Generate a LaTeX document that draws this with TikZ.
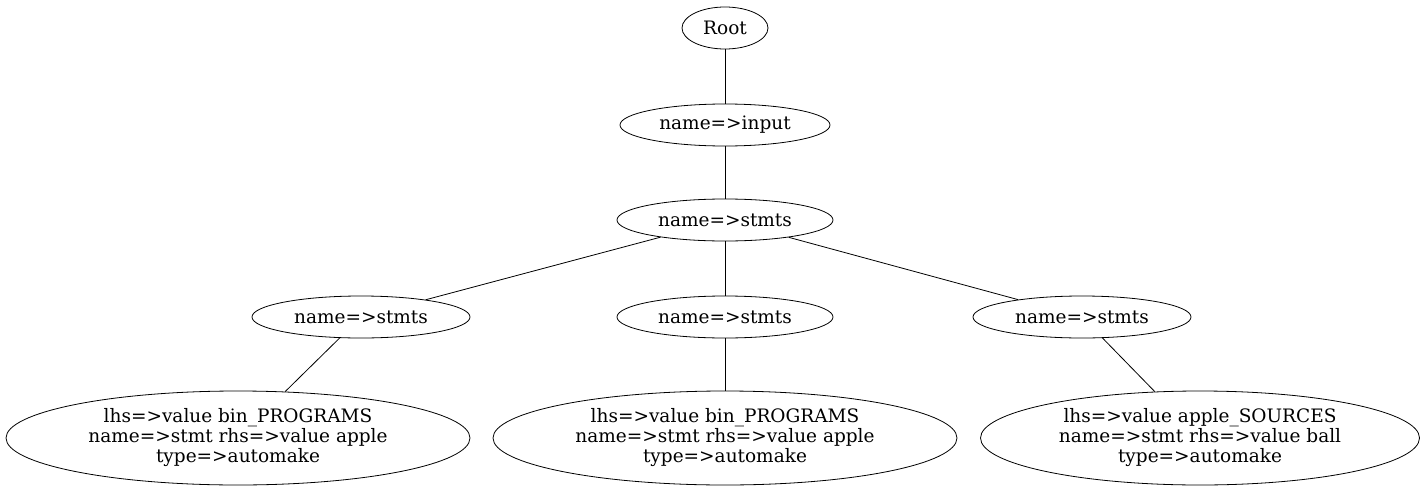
\documentclass[tikz,border=0pt]{standalone}
\usepackage{fontspec}
\setmainfont{DejaVu Serif}
\usetikzlibrary{shapes.geometric}
\begin{document}
\begin{tikzpicture}[x=1pt,y=-1pt,
  gnode/.style={draw,ellipse,inner sep=0pt,line width=0.8pt,font=\fontsize{18.5}{20}\selectfont,align=center},
  edge/.style={draw,line width=0.8pt}]
\useasboundingbox (0,0) rectangle (1426,495);
\node[gnode,minimum width=86pt,minimum height=42pt] (root) at (725,28) {Root};
\node[gnode,minimum width=210pt,minimum height=42pt] (input) at (725,125) {name=>input};
\node[gnode,minimum width=216pt,minimum height=42pt] (s0) at (725,220) {name=>stmts};
\node[gnode,minimum width=218pt,minimum height=42pt] (s1) at (361,317) {name=>stmts};
\node[gnode,minimum width=216pt,minimum height=42pt] (s2) at (725,317) {name=>stmts};
\node[gnode,minimum width=218pt,minimum height=42pt] (s3) at (1082,317) {name=>stmts};
\node[gnode,minimum width=464pt,minimum height=94pt] (l1) at (238,438) {lhs=>value bin\_PROGRAMS\\name=>stmt rhs=>value apple\\type=>automake};
\node[gnode,minimum width=464pt,minimum height=94pt] (l2) at (725,438) {lhs=>value bin\_PROGRAMS\\name=>stmt rhs=>value apple\\type=>automake};
\node[gnode,minimum width=439pt,minimum height=94pt] (l3) at (1200,438) {lhs=>value apple\_SOURCES\\name=>stmt rhs=>value ball\\type=>automake};
\path[edge] (root) -- (input);
\path[edge] (input) -- (s0);
\path[edge] (s0) -- (s1);
\path[edge] (s0) -- (s2);
\path[edge] (s0) -- (s3);
\path[edge] (s1) -- (l1);
\path[edge] (s2) -- (l2);
\path[edge] (s3) -- (l3);
\end{tikzpicture}
\end{document}
